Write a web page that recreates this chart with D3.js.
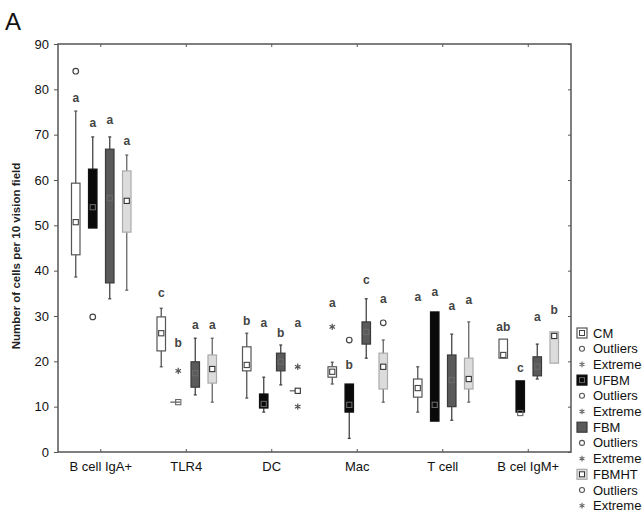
<!DOCTYPE html>
<html>
<head>
<meta charset="utf-8">
<script src="https://cdn.jsdelivr.net/npm/d3@7"></script>
<style>
  body { margin: 0; background: #fff; }
  svg { font-family: "Liberation Sans", Arial, sans-serif; }
</style>
</head>
<body>
<svg id="chart" width="642" height="512"></svg>
<script>
// categories and series
const categories = ["B cell IgA+", "TLR4", "DC", "Mac", "T cell", "B cel IgM+"];
const seriesNames = ["CM", "UFBM", "FBM", "FBMHT"];
const yTicks = [0, 10, 20, 30, 40, 50, 60, 70, 80, 90];

// [whisker low, q1, median, q3, whisker high] per category
const cmStats = [[38.6, 43.5, 50.7, 59.3, 75.2], [18.8, 22.3, 26.2, 29.8, 31.7], [11.9, 17.9, 19.2, 23.2, 26.2],
                 [15, 16.5, 17.7, 18.8, 19.8], [8.8, 12.1, 14.1, 16.1, 18.8], [20.7, 20.7, 21.4, 24.9, 24.9]];
const ufbmStats = [[49.4, 49.4, 54, 62.4, 69.5], [11, 11, 11, 11, 11], [8.8, 9.7, 10.6, 12.8, 16.5],
                   [3, 8.8, 10.4, 15, 15], [6.8, 6.8, 10.4, 30.9, 30.9], [8.8, 8.8, 8.6, 15.7, 15.7]];
const fbmStats = [[33.8, 37.3, 56, 66.8, 69.5], [12.6, 14.3, 17.4, 19.9, 25.1], [14.8, 17.9, 19.9, 21.8, 23.6],
                  [20.7, 23.8, 26.5, 28.7, 33.8], [7, 10, 15.9, 21.4, 26], [16.1, 16.8, 18.8, 21, 23.8]];
const fbmhtStats = [[35.7, 48.5, 55.4, 62, 65.5], [11, 15.2, 18.3, 21.4, 25.1], [13.5, 13.5, 13.5, 13.5, 13.5],
                    [11, 13.9, 18.8, 21.8, 24.7], [11, 13.9, 16.1, 20.7, 28.7], [19.6, 19.6, 25.6, 26.5, 26.5]];

// outliers (circles) and extremes (stars) per category
const cmOutliers = [[84], [], [], [], [], []];
const cmExtremes = [[], [], [], [27.6], [], []];
const ufbmOutliers = [[29.8], [], [], [24.7], [], []];
const ufbmExtremes = [[], [17.9], [], [], [], []];
const fbmOutliers = [[], [], [], [], [], []];
const fbmExtremes = [[], [], [], [], [], []];
const fbmhtOutliers = [[], [], [], [28.5], [], []];
const fbmhtExtremes = [[], [], [18.8, 10], [], [], []];

// significance letters and the level they sit at
const cmLetters = ["a", "c", "b", "a", "a", "ab"];
const cmLetterAt = [78, 35, 29, 32.8, 34.2, 27.6];
const ufbmLetters = ["a", "b", "a", "b", "a", "c"];
const ufbmLetterAt = [72.5, 24, 28.5, 19.2, 35.3, 18.5];
const fbmLetters = ["a", "a", "b", "c", "a", "a"];
const fbmLetterAt = [73.2, 28, 26.2, 38, 32.2, 29.8];
const fbmhtLetters = ["a", "a", "a", "a", "a", "b"];
const fbmhtLetterAt = [68.5, 28, 28.5, 33.7, 33.5, 31.3];

const series = [
  {name: "CM", stats: cmStats, out: cmOutliers, ext: cmExtremes, letters: cmLetters, letterAt: cmLetterAt,
   fill: "#ffffff", stroke: "#555", whisker: "#555", med: "#444", medFill: "#fff"},
  {name: "UFBM", stats: ufbmStats, out: ufbmOutliers, ext: ufbmExtremes, letters: ufbmLetters, letterAt: ufbmLetterAt,
   fill: "#0a0a0a", stroke: "#111", whisker: "#444", med: "#666", medFill: "none"},
  {name: "FBM", stats: fbmStats, out: fbmOutliers, ext: fbmExtremes, letters: fbmLetters, letterAt: fbmLetterAt,
   fill: "#5a5a5a", stroke: "#3a3a3a", whisker: "#444", med: "#6a6a6a", medFill: "none"},
  {name: "FBMHT", stats: fbmhtStats, out: fbmhtOutliers, ext: fbmhtExtremes, letters: fbmhtLetters, letterAt: fbmhtLetterAt,
   fill: "#dcdcdc", stroke: "#aaa", whisker: "#666", med: "#333", medFill: "#fff"}
];

const svg = d3.select("#chart");
const plot = {left: 58, right: 571, top: 44, bottom: 452};

const x = d3.scaleBand().domain(categories).range([plot.left, plot.right]);
const xs = d3.scaleBand().domain(seriesNames).range([-34, 34]);
const y = d3.scaleLinear().domain([0, 90]).range([plot.bottom, plot.top]);
const boxW = xs.bandwidth() * 0.5;

// frame
svg.append("rect")
   .attr("x", plot.left).attr("y", plot.top)
   .attr("width", plot.right - plot.left).attr("height", plot.bottom - plot.top)
   .attr("fill", "none").attr("stroke", "#555").attr("stroke-width", 1.5);

// axes
const axisLeft = svg.append("g")
   .attr("transform", `translate(${plot.left},0)`)
   .call(d3.axisLeft(y).tickValues(yTicks).tickSize(4).tickPadding(5));
const axisBottom = svg.append("g")
   .attr("transform", `translate(0,${plot.bottom})`)
   .call(d3.axisBottom(x).tickSize(-3).tickPadding(10));
svg.append("g")
   .attr("transform", `translate(0,${plot.top})`)
   .call(d3.axisTop(x).tickSize(-3).tickFormat(""));
svg.append("g")
   .attr("transform", `translate(${plot.right},0)`)
   .call(d3.axisRight(y).tickValues(yTicks).tickSize(-3).tickFormat(""));

svg.selectAll(".domain").remove();
svg.selectAll(".tick line").attr("stroke", "#555");
axisLeft.selectAll("text").attr("font-size", 13).attr("fill", "#111");
axisBottom.selectAll("text").attr("font-size", 13).attr("fill", "#111");

// y label
svg.append("text")
   .attr("transform", `translate(20,256) rotate(-90)`)
   .attr("text-anchor", "middle")
   .attr("font-size", 11.5)
   .attr("font-weight", "bold")
   .attr("fill", "#222")
   .text("Number of cells per 10 vision field");

// panel letter
svg.append("text")
   .attr("x", 5).attr("y", 30)
   .attr("font-size", 24)
   .attr("fill", "#111")
   .text("A");

const star = d3.symbol().type(d3.symbolAsterisk).size(28);

series.forEach(s => {
  const g = svg.append("g");
  categories.forEach((c, i) => {
    const cx = x(c) + x.bandwidth() / 2 + xs(s.name) + xs.bandwidth() / 2 + 0.5;
    const [lo, q1, med, q3, hi] = s.stats[i];

    // whiskers
    if (hi > q3) {
      g.append("line").attr("x1", cx).attr("x2", cx).attr("y1", y(q3)).attr("y2", y(hi))
       .attr("stroke", s.whisker).attr("stroke-width", 1.3);
      g.append("line").attr("x1", cx - 1.5).attr("x2", cx + 1.5).attr("y1", y(hi)).attr("y2", y(hi))
       .attr("stroke", s.whisker).attr("stroke-width", 1.3);
    }
    if (lo < q1) {
      g.append("line").attr("x1", cx).attr("x2", cx).attr("y1", y(q1)).attr("y2", y(lo))
       .attr("stroke", s.whisker).attr("stroke-width", 1.3);
      g.append("line").attr("x1", cx - 1.5).attr("x2", cx + 1.5).attr("y1", y(lo)).attr("y2", y(lo))
       .attr("stroke", s.whisker).attr("stroke-width", 1.3);
    }

    // box
    if (q3 > q1) {
      g.append("rect")
       .attr("x", cx - boxW / 2).attr("y", y(q3))
       .attr("width", boxW).attr("height", y(q1) - y(q3))
       .attr("fill", s.fill).attr("stroke", s.stroke).attr("stroke-width", 1.2);
    } else {
      g.append("line").attr("x1", cx - 8).attr("x2", cx + 2).attr("y1", y(q1)).attr("y2", y(q1))
       .attr("stroke", "#666").attr("stroke-width", 1.3);
    }

    // median marker
    g.append("rect")
     .attr("x", cx - 2.6).attr("y", y(med) - 2.6)
     .attr("width", 5.2).attr("height", 5.2)
     .attr("fill", s.medFill === "none" ? "none" : s.medFill)
     .attr("stroke", s.med).attr("stroke-width", 1.1);

    // outliers
    s.out[i].forEach(v => {
      g.append("circle").attr("cx", cx).attr("cy", y(v)).attr("r", 2.8)
       .attr("fill", "#fff").attr("stroke", "#444").attr("stroke-width", 1.2);
    });
    // extremes
    s.ext[i].forEach(v => {
      g.append("path").attr("d", star).attr("transform", `translate(${cx},${y(v)})`)
       .attr("fill", "none").attr("stroke", "#555").attr("stroke-width", 1.2);
    });

    // letter
    g.append("text")
     .attr("x", cx).attr("y", y(s.letterAt[i]) + 4)
     .attr("text-anchor", "middle")
     .attr("font-size", 12)
     .attr("font-weight", "bold")
     .attr("fill", "#444")
     .text(s.letters[i]);
  });
});

// legend
const legendX = 577;
const legendRowY = d3.scaleLinear().domain([0, 1]).range([333, 348.7]);
const legendRows = [];
series.forEach(s => {
  legendRows.push({type: "box", s: s, label: s.name});
  legendRows.push({type: "out", label: "Outliers"});
  legendRows.push({type: "ext", label: "Extremes"});
});
const legend = svg.append("g");
legendRows.forEach((r, i) => {
  const ly = legendRowY(i);
  if (r.type === "box") {
    legend.append("rect").attr("x", legendX).attr("y", ly - 5).attr("width", 10).attr("height", 10)
      .attr("fill", r.s.fill).attr("stroke", r.s.stroke).attr("stroke-width", 1.2);
    if (r.s.name !== "FBM") {
      legend.append("rect").attr("x", legendX + 2.5).attr("y", ly - 2.5).attr("width", 5).attr("height", 5)
        .attr("fill", r.s.medFill === "none" ? "none" : r.s.medFill).attr("stroke", r.s.med).attr("stroke-width", 1);
    }
  } else if (r.type === "out") {
    legend.append("circle").attr("cx", legendX + 5).attr("cy", ly).attr("r", 2.5)
      .attr("fill", "#fff").attr("stroke", "#555").attr("stroke-width", 1.1);
  } else {
    legend.append("path").attr("d", d3.symbol().type(d3.symbolAsterisk).size(22))
      .attr("transform", `translate(${legendX + 5},${ly})`)
      .attr("fill", "none").attr("stroke", "#666").attr("stroke-width", 1.1);
  }
  legend.append("text").attr("x", legendX + 16).attr("y", ly + 4.5)
    .attr("font-size", 13).attr("fill", "#111").text(r.label);
});
</script>
</body>
</html>
